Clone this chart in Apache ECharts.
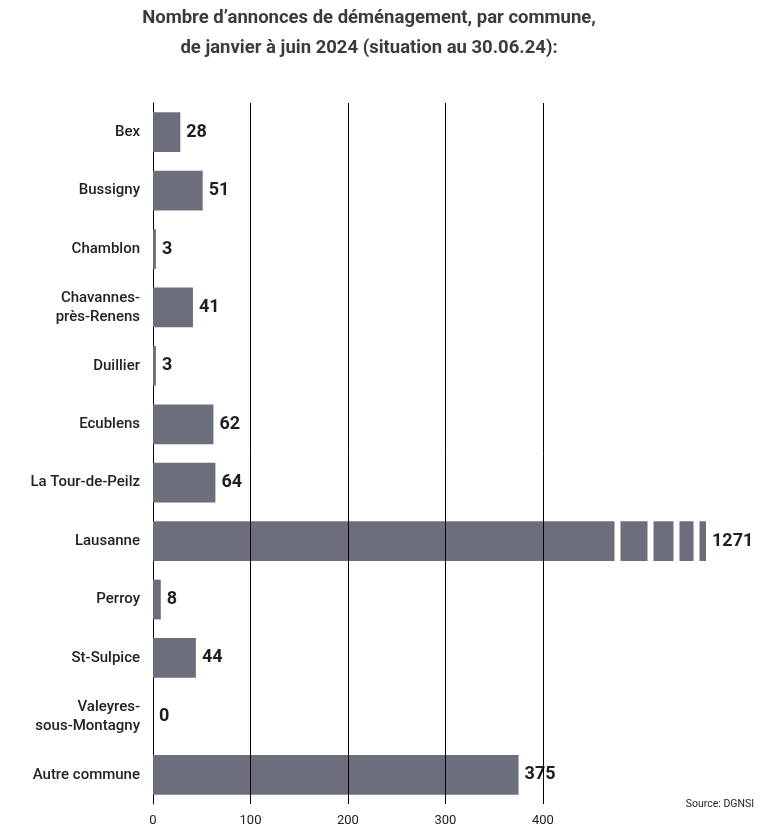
<!DOCTYPE html>
<html>
<head>
<meta charset="utf-8">
<script src="https://cdn.jsdelivr.net/npm/echarts@6/dist/echarts.min.js"></script>
<style>
html,body{margin:0;padding:0;background:#fff;}
#c{width:767px;height:838px;}
</style>
</head>
<body>
<div id="c"></div>
<script>
const titleText = "Nombre d’annonces de déménagement, par commune,\nde janvier à juin 2024 (situation au 30.06.24):";
const sourceText = "Source: DGNSI";
const categories = ["Bex","Bussigny","Chamblon","Chavannes-\nprès-Renens","Duillier","Ecublens","La Tour-de-Peilz","Lausanne","Perroy","St-Sulpice","Valeyres-\nsous-Montagny","Autre commune"];
const values = [28,51,3,41,3,62,64,1271,8,44,0,375];
const tickValues = [0,100,200,300,400];
const gridValues = [100,200,300,400];
// axis breaks used to shorten the long Lausanne bar (drawn as cut segments)
const axisBreaks = [
  {start: 473, end: 600},
  {start: 628, end: 800},
  {start: 821, end: 1000},
  {start: 1014, end: 1264}
];

const FONT = "Roboto, 'DejaVu Sans Condensed', sans-serif";
const chart = echarts.init(document.getElementById('c'), null, {renderer: 'canvas'});
chart.setOption({
  animation: false,
  backgroundColor: '#fff',
  graphic: [
    {type: 'text', x: 369, y: 33, silent: true, z: 300,
     style: {text: titleText, textAlign: 'center', textVerticalAlign: 'middle',
       font: "bold 18.5px Roboto, 'DejaVu Sans Condensed', sans-serif", fill: '#3a3b3d', lineHeight: 30}},
    {type: 'text', right: 13, top: 799, silent: true, z: 300, zlevel: 1,
     style: {text: sourceText, font: "10.5px Roboto, 'DejaVu Sans Condensed', sans-serif", fill: '#222'}}
  ],
  grid: {left: 153, right: 61, top: 103, bottom: 34, containLabel: false},
  xAxis: {
    type: 'value', min: 0, max: 1271,
    breaks: axisBreaks.map(b => ({start: b.start, end: b.end, gap: '1.07%'})),
    breakArea: {show: true, zigzagAmplitude: 0, zigzagZ: 100, expandOnClick: false,
      itemStyle: {color: '#fff', borderColor: '#fff', borderWidth: 0, opacity: 1}},
    axisLine: {show: false},
    axisTick: {show: false, customValues: tickValues},
    splitLine: {show: false},
    axisLabel: {customValues: tickValues, margin: 10, fontFamily: FONT, fontSize: 13, color: '#222'}
  },
  yAxis: {
    type: 'category', data: categories, inverse: true,
    axisLine: {show: true, lineStyle: {color: '#000', width: 1}},
    axisTick: {show: false},
    axisLabel: {margin: 13, fontFamily: FONT, fontSize: 15, fontWeight: 500, color: '#222', lineHeight: 19, align: 'right'}
  },
  series: [{
    type: 'bar', data: values, barCategoryGap: '32%',
    itemStyle: {color: '#6c6f7b'},
    label: {show: true, position: 'right', distance: 6, fontFamily: FONT, fontSize: 18, fontWeight: 'bold', color: '#1e1e1e'},
    markLine: {
      silent: true, symbol: 'none', label: {show: false},
      lineStyle: {color: '#000', width: 1, type: 'solid'},
      data: gridValues.map(v => ({xAxis: v}))
    },
    z: 2
  }]
});
</script>
</body>
</html>
